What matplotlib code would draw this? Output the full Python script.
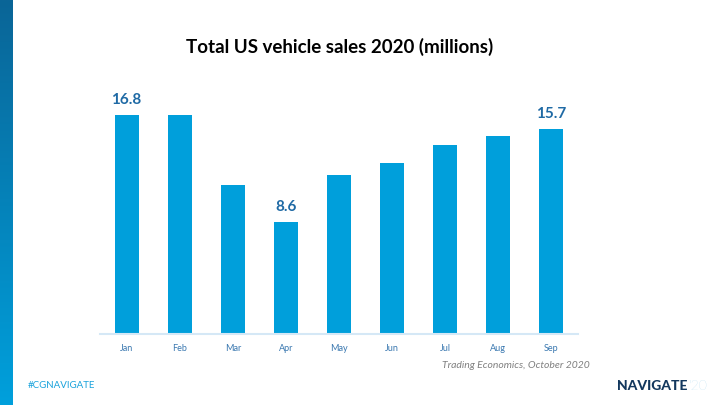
import matplotlib.pyplot as plt
import numpy as np
from matplotlib.colors import LinearSegmentedColormap

months = ["Jan", "Feb", "Mar", "Apr", "May", "Jun", "Jul", "Aug", "Sep"]
sales = [16.8, 16.8, 11.4, 8.6, 12.2, 13.1, 14.5, 15.2, 15.7]
labelled = {0: "16.8", 3: "8.6", 8: "15.7"}

plt.rcParams['font.family'] = ['Lato', 'DejaVu Sans']

W, H = 720, 405
fig = plt.figure(figsize=(7.2, 4.05), dpi=100)
fig.patch.set_facecolor("white")

# left gradient strip
strip = fig.add_axes([0, 0, 13 / W, 1])
grad = np.linspace(0, 1, 256).reshape(-1, 1)
cmap = LinearSegmentedColormap.from_list("strip", ["#0a6597", "#00a0dc"])
strip.imshow(grad, aspect="auto", cmap=cmap, extent=[0, 1, 0, 1], origin="upper")
strip.axis("off")

# main chart
ax = fig.add_axes([100 / W, 1 - 334 / H, 478 / W, 254 / H])
x = np.arange(len(months))
ax.bar(x, sales, width=0.45, color="#009fdb", zorder=2)
ax.set_xlim(-0.5, len(months) - 0.5)
ax.set_ylim(0, 19.48)
for s in ["top", "right", "left"]:
    ax.spines[s].set_visible(False)
ax.spines["bottom"].set_color("#d5e8f6")
ax.spines["bottom"].set_linewidth(1.5)
ax.set_yticks([])
ax.set_xticks(x)
ax.set_xticklabels(months, fontsize=6.5, color="#3a78b0")
ax.tick_params(axis="x", length=0, pad=7)

for i, txt in labelled.items():
    ax.annotate(txt, (i, sales[i]), xytext=(0, 6), textcoords="offset points",
                ha="center", va="bottom", fontsize=11, fontweight="bold",
                color="#1f6aa5")

fig.text(340 / W, 1 - 47 / H, "Total US vehicle sales 2020 (millions)",
         ha="center", va="center", fontsize=13.5, fontweight="bold", color="black")

fig.text(590 / W, 1 - 366 / H, "Trading Economics, October 2020",
         ha="right", va="center", fontsize=7.5, style="italic", color="#808080")

fig.text(28 / W, 1 - 386 / H, "#CGNAVIGATE", ha="left", va="center",
         fontsize=7, color="#1aa3dc")

# logo
t = fig.text(617 / W, 1 - 386 / H, "NAVIGATE", ha="left", va="center",
             fontsize=10, fontweight="black", color="#13385e")
fig.canvas.draw()
bb = t.get_window_extent()
fig.text((bb.x1 + 1) / W, 1 - 386 / H, "'20", ha="left", va="center",
         fontsize=10, fontweight="light", color="#8fcbe9")

plt.savefig("out.png", dpi=100)
